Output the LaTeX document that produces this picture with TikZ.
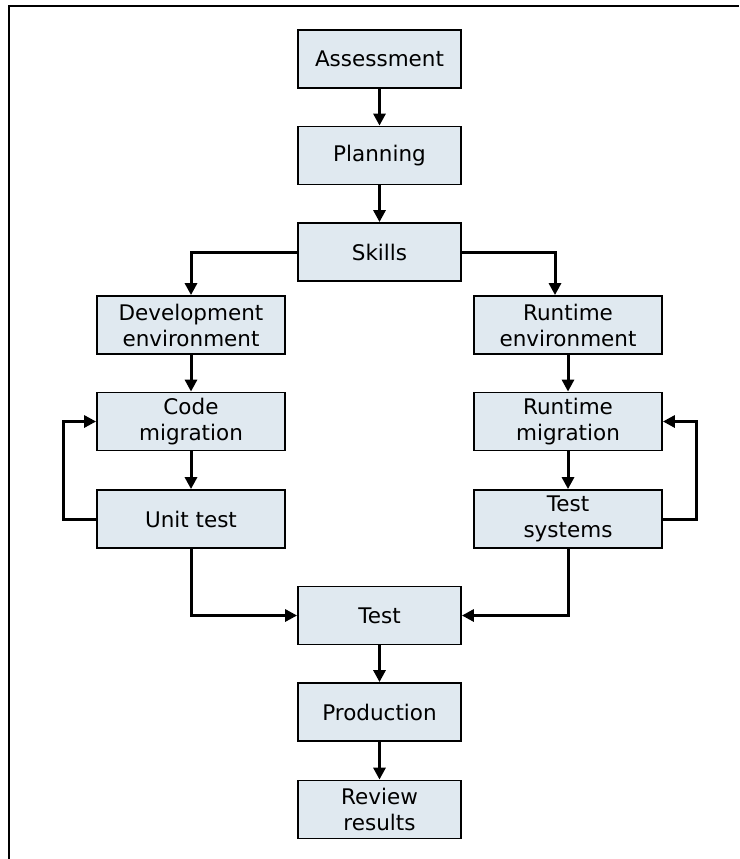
\documentclass[tikz,border=0pt]{standalone}
\usepackage{fontspec}
\setmainfont{DejaVu Sans}
\usetikzlibrary{arrows.meta}
\definecolor{boxfill}{HTML}{E0E9F0}
\tikzset{
  stepbox/.style={draw=black, line width=1.8pt, fill=boxfill, minimum height=58pt,
    inner sep=0pt, align=center, font=\fontsize{21.5}{26}\selectfont},
  midbox/.style={stepbox, minimum width=163pt},
  sidebox/.style={stepbox, minimum width=188pt},
  flow/.style={line width=3pt, -{Triangle[length=12pt,width=12pt]}},
}
\begin{document}
\begin{tikzpicture}[x=1pt,y=-1pt]
\useasboundingbox (0,0) rectangle (739,859);
\draw[line width=1.8pt] (9,859) -- (9,6) -- (739,6);
\node[midbox] (assess) at (379.5,59) {Assessment};
\node[midbox] (plan) at (379.5,155.5) {Planning};
\node[midbox] (skills) at (379.5,252) {Skills};
\node[sidebox] (devenv) at (191,325) {Development\\environment};
\node[sidebox] (rtenv) at (568,325) {Runtime\\environment};
\node[sidebox] (codemig) at (191,421.5) {Code\\migration};
\node[sidebox] (rtmig) at (568,421.5) {Runtime\\migration};
\node[sidebox] (unit) at (191,519) {Unit test};
\node[sidebox] (testsys) at (568,519) {Test\\systems};
\node[midbox] (test) at (379.5,615.5) {Test};
\node[midbox] (prod) at (379.5,712) {Production};
\node[midbox] (review) at (379.5,809.5) {Review\\results};
\coordinate (lloop) at (63,0);
\coordinate (rloop) at (696,0);
\coordinate (rdrop) at (555,0);
\draw[flow] (assess) -- (plan);
\draw[flow] (plan) -- (skills);
\draw[flow] (skills.west) -| (devenv.north);
\draw[flow] (skills.east) -| (rdrop |- rtenv.north);
\draw[flow] (devenv) -- (codemig);
\draw[flow] (rtenv) -- (rtmig);
\draw[flow] (codemig) -- (unit);
\draw[flow] (rtmig) -- (testsys);
\draw[flow] (unit.west) -- (lloop |- unit.west) -- (lloop |- codemig.west) -- (codemig.west);
\draw[flow] (testsys.east) -- (rloop |- testsys.east) -- (rloop |- rtmig.east) -- (rtmig.east);
\draw[flow] (unit.south) |- (test.west);
\draw[flow] (testsys.south) |- (test.east);
\draw[flow] (test) -- (prod);
\draw[flow] (prod) -- (review);
\end{tikzpicture}
\end{document}
